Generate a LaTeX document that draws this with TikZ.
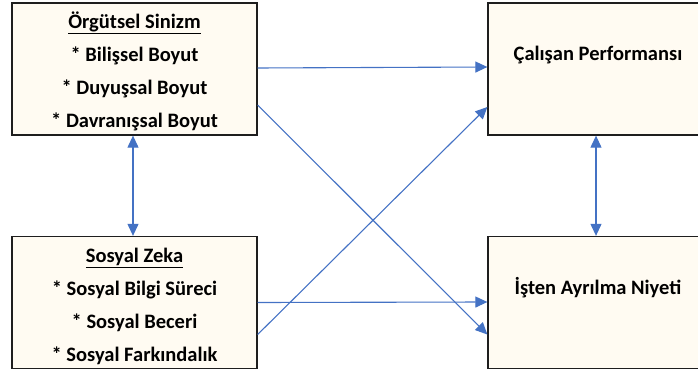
\documentclass[tikz,border=0pt]{standalone}
\usepackage{fontspec}
\setmainfont{Carlito}
\usetikzlibrary{arrows.meta}
\definecolor{boxfill}{HTML}{FFFBF2}
\definecolor{arrowblue}{HTML}{4472C4}
\definecolor{boxline}{HTML}{1E1E1E}
\begin{document}
\begin{tikzpicture}[x=1pt,y=-1pt,
  box/.style={draw=boxline,line width=1.3pt,fill=boxfill,inner sep=0pt,minimum width=245pt,minimum height=132pt},
  rbox/.style={draw=boxline,line width=1.3pt,fill=boxfill,inner sep=0pt,minimum width=220pt,minimum height=132pt},
  lbl/.style={font=\bfseries\fontsize{20.5}{33}\selectfont,align=center,text=black,inner sep=0pt},
  conn/.style={draw=arrowblue,line width=1.1pt,-{Triangle[length=12pt,width=11pt]}},
  biconn/.style={draw=arrowblue,line width=1.1pt,{Triangle[length=12pt,width=11pt]}-{Triangle[length=12pt,width=11pt]}}]
\useasboundingbox (0,0) rectangle (698,374);
\begin{scope}
\clip (0,0) rectangle (698,374);
\node[box] (tl) at (134.5,69) {};
\node[box] (bl) at (134.5,302.5) {};
\node[rbox] (tr) at (598,69) {};
\node[rbox] (br) at (598,302.5) {};
\end{scope}
\node[lbl] (tltext) at (134.5,71) {\underline{Örgütsel Sinizm}\\* Bilişsel Boyut\\* Duyuşsal Boyut\\* Davranışsal Boyut};
\node[lbl] (bltext) at (134.5,306) {\underline{Sosyal Zeka}\\* Sosyal Bilgi Süreci\\* Sosyal Beceri\\* Sosyal Farkındalık};
\node[lbl] (trtext) at (598,55) {Çalışan Performansı};
\node[lbl] (brtext) at (598,288) {İşten Ayrılma Niyeti};
\draw[conn] ([yshift=1pt]tl.east) -- ([yshift=2pt]tr.west);
\draw[conn] ([yshift=-36pt]tl.east) -- ([yshift=-32pt]br.west);
\draw[conn] ([yshift=-32pt]bl.east) -- ([yshift=-38pt]tr.west);
\draw[conn] ([yshift=0pt]bl.east) -- ([yshift=0.5pt]br.west);
\draw[biconn] ([xshift=-1.5pt]tl.south) -- ([xshift=-1.5pt]bl.north);
\draw[biconn] ([xshift=-2pt]tr.south) -- ([xshift=-2pt]br.north);
\end{tikzpicture}
\end{document}
